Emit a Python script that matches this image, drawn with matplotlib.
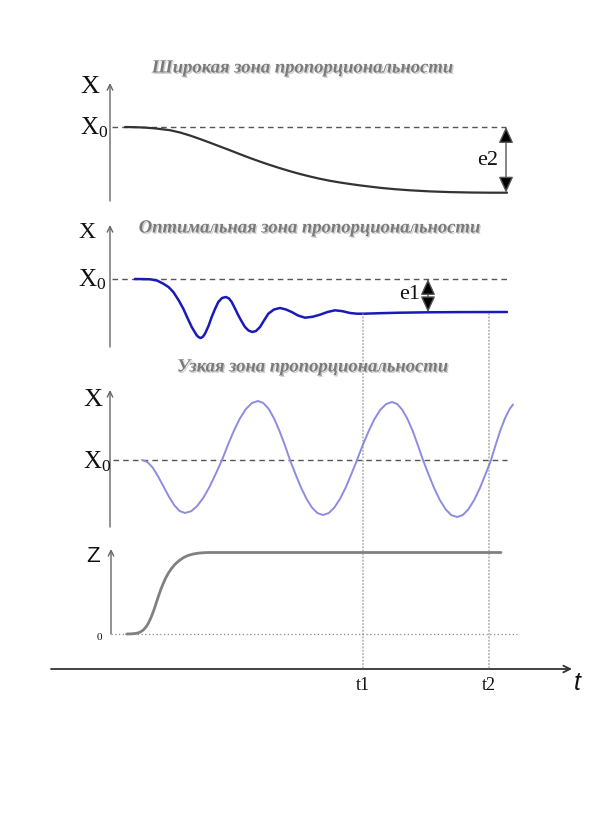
import matplotlib
matplotlib.use("Agg")
import matplotlib.pyplot as plt
import matplotlib.patheffects as pe
from matplotlib.patches import ConnectionPatch

plt.rcParams['mathtext.fontset'] = 'custom'
plt.rcParams['mathtext.rm'] = 'Liberation Serif'

# ---------------- data (time units, deviation units) ----------------
titles = ["Широкая зона пропорциональности",
          "Оптимальная зона пропорциональности",
          "Узкая зона пропорциональности"]

# wide proportional band – slow aperiodic response
wide_t = [1.5, 2.5, 3.5, 4.5, 5.0, 6.0, 7.0, 8.0, 9.0, 10.0, 11.0, 12.0, 13.0,
          14.0, 15.0, 16.0, 17.0, 18.0, 19.0, 20.0, 21.0, 22.0, 23.0, 24.0,
          25.0, 26.0, 27.0, 28.5, 30.0, 32.0, 34.0, 36.0, 38.0, 39.7]
wide_x = [0.0, -0.02, -0.06, -0.14, -0.2, -0.32, -0.55, -0.85, -1.2, -1.57,
          -1.95, -2.33, -2.72, -3.1, -3.46, -3.8, -4.12, -4.42, -4.7, -4.95,
          -5.18, -5.38, -5.55, -5.7, -5.84, -5.96, -6.08, -6.22, -6.33, -6.44,
          -6.51, -6.55, -6.57, -6.57]

# optimal band – damped oscillation
opt_t = [2.5, 3.3, 4.0, 4.7, 5.33, 5.85, 6.33, 6.85, 7.33, 7.75, 8.17, 8.67,
         8.87, 9.07, 9.28, 9.5, 9.85, 10.17, 10.5, 10.83, 11.2, 11.6, 11.9,
         12.17, 12.5, 12.83, 13.17, 13.5, 13.85, 14.23, 14.6, 15.0, 15.4,
         15.83, 16.4, 17.0, 17.6, 18.17, 18.8, 19.5, 20.25, 21.0, 21.75, 22.5,
         23.25, 24.0, 24.7, 25.33, 27.0, 29.0, 31.8, 35.0, 39.7]
opt_x = [0.0, -0.01, -0.03, -0.15, -0.47, -0.8, -1.3, -2.1, -2.97, -3.9, -4.8,
         -5.63, -5.82, -5.9, -5.78, -5.47, -4.7, -3.8, -3.0, -2.3, -1.9, -1.8,
         -1.95, -2.3, -2.95, -3.63, -4.25, -4.8, -5.15, -5.3, -5.2, -4.8, -4.15,
         -3.47, -3.05, -2.9, -3.05, -3.3, -3.65, -3.87, -3.78, -3.57, -3.3,
         -3.13, -3.22, -3.4, -3.47, -3.47, -3.42, -3.37, -3.33, -3.31, -3.3]

# narrow band – sustained oscillation
nar_t = [3.2, 3.74, 4.28, 4.81, 5.35, 5.89, 6.43, 6.96, 7.5, 8.12, 8.73, 9.35,
         9.97, 10.58, 11.2, 11.8, 12.4, 13.0, 13.6, 14.2, 14.8, 15.33, 15.87,
         16.4, 16.93, 17.47, 18.0, 18.55, 19.1, 19.65, 20.2, 20.75, 21.3, 21.87,
         22.43, 23.0, 23.57, 24.13, 24.7, 25.28, 25.87, 26.45, 27.03, 27.62,
         28.2, 28.72, 29.23, 29.75, 30.27, 30.78, 31.3, 31.87, 32.43, 33.0,
         33.57, 34.13, 34.7, 35.27, 35.83, 36.4, 36.97, 37.53, 38.1, 38.57,
         39.03, 39.5, 39.97, 40.3]
nar_x = [0.0, -0.2, -0.77, -1.64, -2.65, -3.66, -4.53, -5.1, -5.3, -5.12, -4.59,
         -3.75, -2.65, -1.37, 0.0, 1.53, 2.95, 4.17, 5.11, 5.7, 5.9, 5.7, 5.11,
         4.17, 2.95, 1.53, 0.0, -1.42, -2.75, -3.89, -4.76, -5.31, -5.5, -5.31,
         -4.76, -3.89, -2.75, -1.42, 0.0, 1.5, 2.9, 4.1, 5.02, 5.6, 5.8, 5.6,
         5.02, 4.1, 2.9, 1.5, 0.0, -1.48, -2.85, -4.03, -4.94, -5.51, -5.7,
         -5.51, -4.94, -4.03, -2.85, -1.48, 0.0, 1.53, 2.95, 4.17, 5.11, 5.55]

# regulator output Z
z_t = [1.67, 2.2, 2.67, 3.0, 3.33, 3.6, 3.83, 4.08, 4.33, 4.58, 4.83, 5.08,
       5.33, 5.58, 5.83, 6.15, 6.5, 6.9, 7.33, 7.8, 8.33, 8.8, 9.33, 10.0, 39.1]
z_v = [0.0, 0.02, 0.07, 0.18, 0.4, 0.7, 1.07, 1.6, 2.23, 2.98, 3.73, 4.45, 5.07,
       5.62, 6.07, 6.55, 6.97, 7.33, 7.63, 7.85, 8.0, 8.08, 8.13, 8.15, 8.15]

t1, t2 = 25.3, 37.9
x0 = 0.0

# ---------------- layout ----------------
W, H = 600, 830
fig = plt.figure(figsize=(6, 8.3), dpi=100)


def band(top, bottom, zero):
    ax = fig.add_axes([0, 1 - bottom / H, 1, (bottom - top) / H])
    ax.set_xlim(-11, 49)
    ax.set_ylim((zero - bottom) / 10, (zero - top) / 10)
    ax.axis('off')
    return ax


ax1 = band(40, 210, 127)
ax2 = band(210, 355, 279)
ax3 = band(355, 535, 460)
ax4 = band(535, 650, 634)
axT = band(650, 730, 669)

axis_col = '#666666'
dash_col = '#555555'
title_kw = dict(fontsize=13.4, family='Liberation Serif', style='italic',
                weight='bold', color='#7a7a7a', ha='center', va='center',
                path_effects=[pe.withSimplePatchShadow(offset=(1, -1),
                                                       shadow_rgbFace='#c4c4c4',
                                                       alpha=0.8)])
lab_kw = dict(family='Liberation Serif', color='#111111')


def vaxis(ax, top, bottom, x=0.0):
    ax.annotate('', xy=(x, top), xytext=(x, bottom),
                arrowprops=dict(arrowstyle='->', color=axis_col, lw=1.0,
                                mutation_scale=10, shrinkA=0, shrinkB=0))


def xlabels(ax, xl, yX, yX0, sX, sX0):
    ax.text(xl, yX, 'X', fontsize=sX, ha='left', va='baseline', **lab_kw)
    ax.text(xl, yX0, r'$\mathregular{X_0}$', fontsize=sX0, ha='left',
            va='baseline', **lab_kw)


def dbl_arrow(ax, t, a, b):
    ax.annotate('', xy=(t, a), xytext=(t, b),
                arrowprops=dict(arrowstyle='<|-|>,head_length=0.7,head_width=0.32',
                                fc='black', ec='#555555', lw=1.0,
                                mutation_scale=14, shrinkA=0, shrinkB=0))


# panel 1
ax1.text(19.3, 5.9, titles[0], **title_kw)
vaxis(ax1, 4.4, -7.4)
xlabels(ax1, -3.0, 3.4, -0.7, 19, 18)
ax1.hlines(x0, 0.2, 39.6, colors=dash_col, linestyles=(0, (4, 3)), lw=1)
ax1.plot(wide_t, wide_x, color='#333333', lw=1.6, solid_capstyle='round')
dbl_arrow(ax1, 39.6, x0, wide_x[-1])
ax1.text(37.8, -3.3, 'e2', fontsize=16, ha='center', va='center', **lab_kw)

# panel 2
ax2.text(20.0, 5.1, titles[1], **title_kw)
vaxis(ax2, 5.4, -6.8)
xlabels(ax2, -3.2, 4.1, -0.7, 17, 18)
ax2.hlines(x0, 0.2, 39.7, colors=dash_col, linestyles=(0, (4, 3)), lw=1)
ax2.plot(opt_t, opt_x, color='#1a1ab8', lw=1.8, solid_capstyle='round')
dbl_arrow(ax2, 31.8, x0, opt_x[-3])
ax2.text(30.0, -1.5, 'e1', fontsize=16, ha='center', va='center', **lab_kw)

# panel 3
ax3.text(20.3, 9.3, titles[2], **title_kw)
vaxis(ax3, 7.0, -6.7)
xlabels(ax3, -2.7, 5.4, -0.8, 19, 18)
ax3.hlines(x0, 0.3, 39.7, colors=dash_col, linestyles=(0, (4, 3)), lw=1)
ax3.plot(nar_t, nar_x, color='#8c8ce0', lw=1.4, solid_capstyle='round')

# panel 4
vaxis(ax4, 8.5, 0.0, x=0.1)
ax4.text(-1.7, 7.7, 'Z', fontsize=16, family='Liberation Sans', color='#111111',
         ha='center', va='center')
ax4.text(-1.1, -0.3, '0', fontsize=8, ha='center', va='center', **lab_kw)
ax4.hlines(0, 0.1, 40.7, colors='#888888', linestyles=(0, (1, 2)), lw=0.9)
ax4.plot(z_t, z_v, color='#808080', lw=2.0, solid_capstyle='round')

# time axis
axT.annotate('', xy=(46.2, 0), xytext=(-5.9, 0),
             arrowprops=dict(arrowstyle='->', color='#333333', lw=1.3,
                             mutation_scale=12, shrinkA=0, shrinkB=0))
axT.text(t1, -1.6, 't1', fontsize=13, ha='center', va='center', **lab_kw)
axT.text(t2, -1.6, 't2', fontsize=13, ha='center', va='center', **lab_kw)
axT.text(46.7, -1.4, 't', fontsize=18, family='Liberation Sans', style='italic',
         color='#111111', ha='center', va='center')

# dotted guides from the settled level down to the time axis
for tt in (t1, t2):
    cp = ConnectionPatch(xyA=(tt, opt_x[-1] - 0.15), coordsA=ax2.transData,
                         xyB=(tt, 0), coordsB=axT.transData,
                         color='#888888', lw=0.8, ls=(0, (1, 2)))
    fig.add_artist(cp)

fig.savefig('out.png', dpi=100, facecolor='white')
